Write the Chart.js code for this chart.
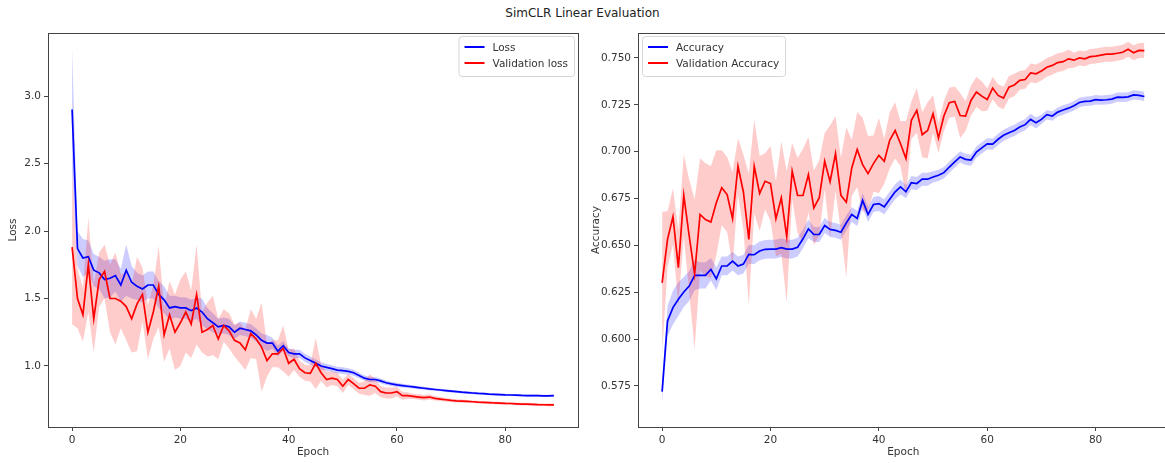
<!DOCTYPE html>
<html>
<head>
<meta charset="utf-8">
<title>SimCLR Linear Evaluation</title>
<script src="https://cdn.jsdelivr.net/npm/chart.js@4.4.0/dist/chart.umd.min.js"></script>
<style>
  html, body { margin: 0; padding: 0; background: #fff; width: 1165px; height: 463px; overflow: hidden; }
  #title { position: absolute; left: 0; top: 6px; width: 1165px; text-align: center;
           font: 12px "DejaVu Sans", sans-serif; color: #222; }
  #lossChart { position: absolute; left: 0; top: 0; }
  #accChart  { position: absolute; left: 583px; top: 0; }
</style>
</head>
<body>
<div id="title">SimCLR Linear Evaluation</div>
<canvas id="lossChart" width="600" height="463"></canvas>
<canvas id="accChart" width="600" height="463"></canvas>
<script>
// ---- training history (mean and spread over runs) ----
const epochs = Array.from({ length: 90 }, (_, i) => i);

const lossMean = [
  2.90, 1.87, 1.80, 1.81, 1.71, 1.69, 1.64, 1.65, 1.67, 1.60,
  1.71, 1.62, 1.59, 1.57, 1.60, 1.60, 1.53, 1.49, 1.43, 1.44,
  1.43, 1.43, 1.41, 1.43, 1.40, 1.35, 1.32, 1.29, 1.30, 1.29,
  1.25, 1.28, 1.27, 1.26, 1.23, 1.19, 1.17, 1.17, 1.11, 1.15,
  1.10, 1.09, 1.09, 1.06, 1.04, 1.02, 1.00, 0.99, 0.98, 0.97,
  0.965, 0.96, 0.95, 0.93, 0.91, 0.90, 0.90, 0.89, 0.876, 0.867,
  0.86, 0.855, 0.85, 0.845, 0.84, 0.835, 0.83, 0.826, 0.822, 0.818,
  0.814, 0.81, 0.806, 0.803, 0.80, 0.797, 0.795, 0.792, 0.79, 0.788,
  0.786, 0.785, 0.784, 0.782, 0.781, 0.78, 0.78, 0.779, 0.779, 0.78
];
const lossStd = [
  0.45, 0.13, 0.14, 0.12, 0.12, 0.12, 0.14, 0.14, 0.12, 0.12,
  0.19, 0.12, 0.10, 0.10, 0.10, 0.10, 0.10, 0.10, 0.09, 0.08,
  0.08, 0.08, 0.08, 0.08, 0.10, 0.08, 0.07, 0.06, 0.06, 0.06,
  0.05, 0.05, 0.05, 0.05, 0.05, 0.05, 0.06, 0.04, 0.04, 0.035,
  0.03, 0.03, 0.03, 0.03, 0.03, 0.028, 0.028, 0.026, 0.025, 0.025,
  0.025, 0.024, 0.022, 0.02, 0.02, 0.02, 0.018, 0.017, 0.016, 0.015,
  0.015, 0.014, 0.013, 0.012, 0.012, 0.011, 0.011, 0.01, 0.01, 0.01,
  0.01, 0.01, 0.009, 0.009, 0.009, 0.009, 0.009, 0.008, 0.008, 0.008,
  0.008, 0.008, 0.008, 0.008, 0.008, 0.008, 0.008, 0.008, 0.008, 0.008
];
const valLossMean = [
  1.88, 1.50, 1.38, 1.75, 1.35, 1.64, 1.70, 1.50, 1.50, 1.48,
  1.44, 1.35, 1.46, 1.53, 1.25, 1.40, 1.59, 1.23, 1.38, 1.25,
  1.32, 1.40, 1.31, 1.53, 1.25, 1.27, 1.30, 1.20, 1.30, 1.26,
  1.19, 1.17, 1.12, 1.24, 1.20, 1.14, 1.04, 1.09, 1.09, 1.13,
  1.02, 1.05, 0.98, 0.95, 0.945, 1.02, 0.95, 0.90, 0.91, 0.90,
  0.85, 0.90, 0.87, 0.835, 0.835, 0.86, 0.85, 0.81, 0.80, 0.80,
  0.81, 0.78, 0.78, 0.775, 0.77, 0.765, 0.77, 0.76, 0.755, 0.75,
  0.745, 0.742, 0.74, 0.738, 0.735, 0.732, 0.73, 0.728, 0.726, 0.725,
  0.723, 0.722, 0.72, 0.718, 0.717, 0.716, 0.714, 0.713, 0.712, 0.712
];
const valLossStd = [
  0.57, 0.22, 0.20, 0.35, 0.25, 0.20, 0.20, 0.25, 0.34, 0.20,
  0.25, 0.25, 0.35, 0.20, 0.20, 0.20, 0.30, 0.20, 0.25, 0.28,
  0.32, 0.30, 0.25, 0.37, 0.15, 0.20, 0.22, 0.15, 0.12, 0.13,
  0.12, 0.15, 0.15, 0.18, 0.15, 0.33, 0.12, 0.10, 0.10, 0.17,
  0.10, 0.08, 0.06, 0.06, 0.06, 0.19, 0.06, 0.06, 0.05, 0.05,
  0.05, 0.04, 0.04, 0.04, 0.05, 0.08, 0.05, 0.04, 0.04, 0.04,
  0.035, 0.03, 0.025, 0.02, 0.02, 0.02, 0.02, 0.015, 0.015, 0.015,
  0.012, 0.012, 0.012, 0.01, 0.01, 0.01, 0.01, 0.01, 0.01, 0.01,
  0.01, 0.01, 0.01, 0.01, 0.01, 0.01, 0.01, 0.01, 0.01, 0.01
];
const accMean = [
  0.572, 0.6097, 0.6168, 0.6213, 0.6251, 0.6283, 0.634, 0.634, 0.634, 0.6372,
  0.6322, 0.639, 0.639, 0.6416, 0.639, 0.640, 0.6452, 0.645, 0.647, 0.6479,
  0.648, 0.648, 0.6488, 0.648, 0.648, 0.649, 0.6535, 0.6588, 0.6558, 0.6558,
  0.6606, 0.6585, 0.658, 0.657, 0.662, 0.6665, 0.6644, 0.674, 0.6665, 0.6718,
  0.6723, 0.6706, 0.6746, 0.6786, 0.6812, 0.6786, 0.6835, 0.683, 0.6853, 0.6853,
  0.6865, 0.6874, 0.6888, 0.6918, 0.6945, 0.6972, 0.6959, 0.6955, 0.6998, 0.702,
  0.7042, 0.704, 0.7066, 0.7087, 0.7101, 0.7113, 0.7131, 0.7144, 0.7172, 0.7154,
  0.7172, 0.7197, 0.719, 0.7211, 0.7222, 0.7232, 0.7245, 0.7262, 0.7268, 0.727,
  0.7277, 0.7275, 0.7277, 0.728, 0.7291, 0.729, 0.7292, 0.7303, 0.730, 0.7294
];
const accStd = [
  0.006, 0.008, 0.009, 0.009, 0.008, 0.008, 0.008, 0.007, 0.007, 0.006,
  0.006, 0.005, 0.005, 0.005, 0.005, 0.005, 0.005, 0.005, 0.005, 0.005,
  0.005, 0.005, 0.005, 0.005, 0.005, 0.005, 0.005, 0.005, 0.004, 0.004,
  0.004, 0.004, 0.004, 0.004, 0.004, 0.004, 0.004, 0.004, 0.004, 0.004,
  0.004, 0.004, 0.004, 0.004, 0.004, 0.0035, 0.0035, 0.0035, 0.0035, 0.0035,
  0.003, 0.003, 0.003, 0.003, 0.003, 0.003, 0.003, 0.003, 0.003, 0.003,
  0.003, 0.003, 0.003, 0.003, 0.003, 0.003, 0.003, 0.003, 0.003, 0.003,
  0.0025, 0.0025, 0.0025, 0.0025, 0.0025, 0.0025, 0.0025, 0.0025, 0.0025, 0.0025,
  0.0025, 0.0025, 0.0025, 0.0025, 0.0025, 0.0025, 0.0025, 0.0025, 0.0025, 0.0025
];
const valAccMean = [
  0.630, 0.6532, 0.6653, 0.6381, 0.6766, 0.655, 0.6346, 0.6665, 0.6638, 0.6624,
  0.6727, 0.6807, 0.6771, 0.6642, 0.6922, 0.6785, 0.6532, 0.6922, 0.6777, 0.6842,
  0.683, 0.6642, 0.6754, 0.6546, 0.6896, 0.6766, 0.6766, 0.6878, 0.670, 0.6754,
  0.6949, 0.684, 0.699, 0.6767, 0.673, 0.6913, 0.7012, 0.6931, 0.6883, 0.6936,
  0.698, 0.6949, 0.706, 0.7113, 0.7042, 0.6963, 0.7167, 0.722, 0.709, 0.7113,
  0.7202, 0.7073, 0.719, 0.7261, 0.7268, 0.7193, 0.719, 0.7273, 0.7318, 0.7296,
  0.7278, 0.7339, 0.730, 0.7286, 0.7344, 0.7356, 0.738, 0.7385, 0.742, 0.7415,
  0.743, 0.745, 0.746, 0.7475, 0.748, 0.7495, 0.7488, 0.750, 0.7495, 0.7507,
  0.751, 0.7515, 0.752, 0.752, 0.7525, 0.753, 0.7546, 0.7528, 0.754, 0.7539
];
const valAccStd = [
  0.038, 0.015, 0.015, 0.02, 0.022, 0.03, 0.04, 0.03, 0.03, 0.03,
  0.028, 0.02, 0.02, 0.025, 0.015, 0.02, 0.035, 0.025, 0.02, 0.015,
  0.02, 0.02, 0.03, 0.035, 0.015, 0.02, 0.025, 0.02, 0.02, 0.02,
  0.015, 0.03, 0.02, 0.02, 0.04, 0.015, 0.02, 0.025, 0.02, 0.015,
  0.02, 0.012, 0.015, 0.015, 0.012, 0.02, 0.01, 0.012, 0.012, 0.015,
  0.01, 0.008, 0.008, 0.008, 0.008, 0.012, 0.008, 0.008, 0.008, 0.008,
  0.006, 0.006, 0.006, 0.006, 0.006, 0.006, 0.005, 0.005, 0.005, 0.005,
  0.005, 0.005, 0.005, 0.005, 0.005, 0.005, 0.004, 0.004, 0.004, 0.004,
  0.004, 0.004, 0.004, 0.004, 0.004, 0.004, 0.004, 0.004, 0.004, 0.004
];

const epochTicks = [0, 20, 40, 60, 80];
const lossTicks = [1.0, 1.5, 2.0, 2.5, 3.0];
const accTicks = [0.575, 0.600, 0.625, 0.650, 0.675, 0.700, 0.725, 0.750];

// ---- styling helpers ----
const FONT = '"DejaVu Sans", sans-serif';
const TEXT = '#333';
const SPINE = '#444';
const BLUE = 'rgb(0,0,255)';
const RED = 'rgb(255,0,0)';
const BLUE_FILL = 'rgba(0,0,255,0.2)';
const RED_FILL = 'rgba(255,0,0,0.2)';

const pts = (vals) => epochs.map((e, i) => ({ x: e, y: vals[i] }));
const shifted = (m, s, sign) => epochs.map((e, i) => ({ x: e, y: m[i] + sign * s[i] }));

function bandAndLine(label, mean, std, color, fill, drawRank) {
  return [
    { data: shifted(mean, std, +1), borderWidth: 0, pointRadius: 0, fill: '+1',
      backgroundColor: fill, order: 10 + drawRank },
    { data: shifted(mean, std, -1), borderWidth: 0, pointRadius: 0, fill: false,
      order: 10 + drawRank },
    { label, data: pts(mean), borderColor: color, borderWidth: 1.7, pointRadius: 0,
      fill: false, order: drawRank, legendColor: color }
  ];
}

// Frame on all four sides of the plot area
const framePlugin = {
  id: 'frame',
  afterDatasetsDraw(chart) {
    const { ctx, chartArea: a } = chart;
    ctx.save();
    ctx.strokeStyle = SPINE;
    ctx.lineWidth = 1;
    ctx.strokeRect(Math.round(a.left) + 0.5, Math.round(a.top) + 0.5,
                   Math.round(a.right - a.left), Math.round(a.bottom - a.top));
    ctx.restore();
  }
};

// Boxed legend placed inside the plot area
const boxLegendPlugin = {
  id: 'boxLegend',
  afterDraw(chart, args, opts) {
    const { ctx, chartArea: a } = chart;
    const items = chart.data.datasets.filter(d => d.label);
    ctx.save();
    ctx.font = '10.5px ' + FONT;
    const rowH = 16, pad = 6, handle = 20, gap = 8;
    const textW = Math.max(...items.map(d => ctx.measureText(d.label).width));
    const w = pad * 2 + handle + gap + textW;
    const h = pad + rowH * items.length + 2;
    const x = opts.align === 'right' ? a.right - 4 - w : a.left + 4;
    const y = a.top + 3;
    ctx.beginPath();
    ctx.roundRect(x + 0.5, y + 0.5, w, h, 3);
    ctx.fillStyle = 'rgba(255,255,255,0.85)';
    ctx.fill();
    ctx.strokeStyle = '#d6d6d6';
    ctx.lineWidth = 1;
    ctx.stroke();
    items.forEach((d, i) => {
      const cy = y + pad + 5 + i * rowH;
      ctx.strokeStyle = d.legendColor;
      ctx.lineWidth = 2;
      ctx.beginPath();
      ctx.moveTo(x + pad, cy);
      ctx.lineTo(x + pad + handle, cy);
      ctx.stroke();
      ctx.fillStyle = TEXT;
      ctx.textBaseline = 'middle';
      ctx.fillText(d.label, x + pad + handle + gap, cy + 1);
    });
    ctx.restore();
  }
};

function makeChart(canvasId, cfg) {
  return new Chart(document.getElementById(canvasId), {
    type: 'line',
    data: { datasets: cfg.datasets },
    options: {
      responsive: false,
      animation: false,
      devicePixelRatio: 1,
      layout: { padding: { left: 0, top: 33, right: cfg.rightPad, bottom: 0 } },
      plugins: {
        legend: { display: false },
        tooltip: { enabled: false },
        boxLegend: { align: cfg.legendAlign }
      },
      scales: {
        x: {
          type: 'linear', min: -4.45, max: 93.45,
          border: { display: false },
          grid: { display: true, drawOnChartArea: false, drawTicks: true, tickLength: 4,
                  color: SPINE },
          ticks: { color: TEXT, font: { family: FONT, size: 10.5 }, padding: 3,
                   maxRotation: 0, includeBounds: false },
          afterBuildTicks: s => { s.ticks = epochTicks.map(v => ({ value: v })); },
          afterFit: s => { s.height = 36; },
          title: { display: true, text: 'Epoch', color: TEXT,
                   font: { family: FONT, size: 10.5 }, padding: { top: 0, bottom: 4 } }
        },
        y: {
          type: 'linear', min: cfg.yMin, max: cfg.yMax,
          border: { display: false },
          grid: { display: true, drawOnChartArea: false, drawTicks: true, tickLength: 4,
                  color: SPINE },
          ticks: { color: TEXT, font: { family: FONT, size: 10.5 }, padding: 3,
                   includeBounds: false, callback: v => v.toFixed(cfg.decimals) },
          afterBuildTicks: s => { s.ticks = cfg.yTicks.map(v => ({ value: v })); },
          afterFit: s => { s.width = cfg.yWidth; },
          title: { display: true, text: cfg.yTitle, color: TEXT,
                   font: { family: FONT, size: 10.5 }, padding: { top: 7, bottom: 0 } }
        }
      }
    },
    plugins: [framePlugin, boxLegendPlugin]
  });
}

makeChart('lossChart', {
  datasets: [
    ...bandAndLine('Loss', lossMean, lossStd, BLUE, BLUE_FILL, 2),
    ...bandAndLine('Validation loss', valLossMean, valLossStd, RED, RED_FILL, 1)
  ],
  rightPad: 22, yWidth: 48, yMin: 0.548, yMax: 3.467,
  yTicks: lossTicks, decimals: 1, yTitle: 'Loss', legendAlign: 'right'
});

makeChart('accChart', {
  datasets: [
    ...bandAndLine('Accuracy', accMean, accStd, BLUE, BLUE_FILL, 2),
    ...bandAndLine('Validation Accuracy', valAccMean, valAccStd, RED, RED_FILL, 1)
  ],
  rightPad: 14.5, yWidth: 55, yMin: 0.5531, yMax: 0.7633,
  yTicks: accTicks, decimals: 3, yTitle: 'Accuracy', legendAlign: 'left'
});
</script>
</body>
</html>
